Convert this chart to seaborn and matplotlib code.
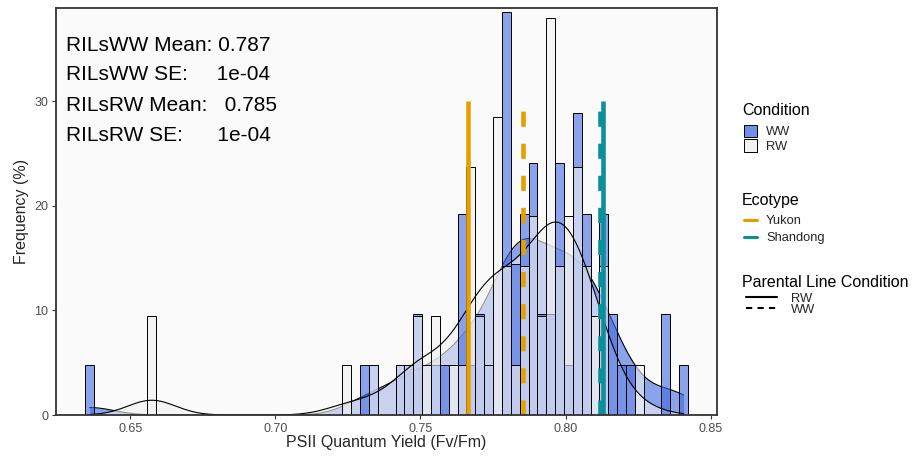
import numpy as np
import pandas as pd
import matplotlib
matplotlib.use("Agg")
import matplotlib.pyplot as plt
import seaborn as sns
from matplotlib.patches import Patch
from matplotlib.lines import Line2D

# ---------------- data ----------------
bin_values = [0.6360, 0.6574, 0.7246, 0.7307, 0.7338, 0.7430, 0.7460, 0.7491,
              0.7521, 0.7552, 0.7582, 0.7613, 0.7643, 0.7674, 0.7704, 0.7735,
              0.7766, 0.7796, 0.7827, 0.7857, 0.7888, 0.7918, 0.7949, 0.7979,
              0.8010, 0.8041, 0.8071, 0.8102, 0.8132, 0.8163, 0.8193, 0.8224,
              0.8254, 0.8346, 0.8407]
ww_counts = [1, 0, 0, 1, 1, 1, 1, 2,
             0, 1, 1, 0, 4, 1, 2, 1,
             0, 8, 3, 4, 5, 2, 2, 5,
             1, 6, 4, 0, 4, 2, 1, 1,
             0, 2, 1]
rw_counts = [0, 2, 1, 0, 1, 1, 1, 2,
             1, 2, 0, 1, 1, 5, 2, 1,
             6, 3, 1, 3, 4, 2, 8, 3,
             4, 5, 3, 2, 3, 0, 0, 0,
             1, 0, 0]

parent_condition = ["RW", "WW", "RW", "WW"]
parent_ecotype = ["Yukon", "Yukon", "Shandong", "Shandong"]
parent_values = [0.7664, 0.7853, 0.8128, 0.8120]
parent_line_top = 30

annot_labels = ["RILsWW Mean: 0.787",
                "RILsWW SE:     1e-04",
                "RILsRW Mean:   0.785",
                "RILsRW SE:      1e-04"]
annot_y = [35.3, 32.5, 29.6, 26.7]

xticks = [0.65, 0.70, 0.75, 0.80, 0.85]
xtick_labels = ["0.65", "0.70", "0.75", "0.80", "0.85"]
yticks = [0, 10, 20, 30]

# ---------------- style ----------------
sns.set_style("white")
plt.rcParams["font.family"] = ["Liberation Sans", "DejaVu Sans"]

BLUE = "#4169E1"
GREY = "#F2F2F2"
ECO_COLORS = {"Yukon": "#E69F00", "Shandong": "#0A8F9B"}
BIN_START, BIN_WIDTH, N_BINS = 0.63449, 0.003055, 68
edges = BIN_START + BIN_WIDTH * np.arange(N_BINS + 1)
KDE_BW = 0.0082

df = pd.DataFrame({
    "Fv/Fm": np.concatenate([np.repeat(bin_values, ww_counts),
                             np.repeat(bin_values, rw_counts)]),
    "Condition": ["WW"] * int(sum(ww_counts)) + ["RW"] * int(sum(rw_counts)),
})
full_range = (df["Fv/Fm"].min(), df["Fv/Fm"].max())

fig = plt.figure(figsize=(9.15, 4.57), dpi=100)
ax = fig.add_axes([56 / 915, 42 / 457, 661 / 915, 407 / 457])
ax.set_facecolor("#FAFAFA")

ww = df.loc[df["Condition"] == "WW", "Fv/Fm"]
rw = df.loc[df["Condition"] == "RW", "Fv/Fm"]
kde_common = dict(cut=4, clip=full_range)

# WW density (fill + outline), then RW fill over it
sns.kdeplot(x=ww, ax=ax, fill=True, color=BLUE, alpha=0.6, linewidth=0,
            bw_method=KDE_BW / ww.std(ddof=1), zorder=1.00, **kde_common)
sns.kdeplot(x=ww, ax=ax, color="black", linewidth=0.8,
            bw_method=KDE_BW / ww.std(ddof=1), zorder=1.01, **kde_common)
sns.kdeplot(x=rw, ax=ax, fill=True, color=GREY, alpha=0.6, linewidth=0,
            bw_method=KDE_BW / rw.std(ddof=1), zorder=1.02, **kde_common)

# histograms
sns.histplot(x=ww, ax=ax, bins=edges, stat="density", color=BLUE,
             alpha=0.6, edgecolor="black", linewidth=0.7, zorder=1.03)
sns.histplot(x=rw, ax=ax, bins=edges, stat="density", color=GREY,
             alpha=0.6, edgecolor="black", linewidth=0.7, zorder=1.04)

# RW density outline on top of bars
sns.kdeplot(x=rw, ax=ax, color="black", linewidth=0.8,
            bw_method=KDE_BW / rw.std(ddof=1), zorder=1.05, **kde_common)

# parental lines
for v, cond, eco in zip(parent_values, parent_condition, parent_ecotype):
    ls = "solid" if cond == "RW" else (0, (3.3, 3.7))
    ax.vlines(v, 0, parent_line_top, colors=ECO_COLORS[eco], linewidth=3.3,
              linestyles=ls, zorder=2)

# annotations
for lab, yy in zip(annot_labels, annot_y):
    ax.text(0.6278, yy, lab, fontsize=15, va="center", ha="left",
            color="black", zorder=3)

ax.set_xlim(0.6244, 0.8522)
ax.set_ylim(0, 38.9)
ax.set_xticks(xticks)
ax.set_xticklabels(xtick_labels)
ax.set_yticks(yticks)
ax.tick_params(axis="both", which="both", direction="out", length=3, width=0.8,
               color="#333333", labelcolor="#4D4D4D", labelsize=9, pad=2.5,
               bottom=True, left=True)
ax.set_xlabel("PSII Quantum Yield (Fv/Fm)", fontsize=11.5, labelpad=0.5)
ax.set_ylabel("Frequency (%)", fontsize=11.5, labelpad=4)
for sp in ax.spines.values():
    sp.set_visible(True)
    sp.set_color("#333333")
    sp.set_linewidth(1.3)

# legends (titles as separate text so spacing can follow the reference)
W, H = 915, 457
title_kw = dict(fontsize=11.5, ha="left", va="baseline", color="black")
fig.text(742 / W, 1 - 114.8 / H, "Condition", **title_kw)
fig.text(742 / W, 1 - 204.8 / H, "Ecotype", **title_kw)
fig.text(742 / W, 1 - 286.8 / H, "Parental Line Condition", **title_kw)

common = dict(loc="upper left", bbox_transform=fig.transFigure, frameon=False,
              fontsize=9.3, borderpad=0, borderaxespad=0, alignment="left")
h1 = [Patch(facecolor=(65 / 255, 105 / 255, 225 / 255, 0.75), edgecolor="black", linewidth=0.7),
      Patch(facecolor=GREY, edgecolor="black", linewidth=0.7)]
leg1 = ax.legend(handles=h1, labels=["WW", "RW"],
                 bbox_to_anchor=(744 / W, 1 - 124.6 / H), handlelength=1.0,
                 handleheight=1.1, labelspacing=0.1, handletextpad=0.7, **common)
ax.add_artist(leg1)
h2 = [Line2D([], [], color=ECO_COLORS["Yukon"], linewidth=2.2),
      Line2D([], [], color=ECO_COLORS["Shandong"], linewidth=2.2)]
leg2 = ax.legend(handles=h2, labels=["Yukon", "Shandong"],
                 bbox_to_anchor=(744 / W, 1 - 215.3 / H), handlelength=1.0,
                 labelspacing=0.36, handletextpad=0.7, **common)
ax.add_artist(leg2)
h3 = [Line2D([], [], color="black", linewidth=1.5),
      Line2D([], [], color="black", linewidth=1.5, linestyle=(0, (3, 2.5)))]
leg3 = ax.legend(handles=h3, labels=["RW", "WW"],
                 bbox_to_anchor=(746 / W, 1 - 292.5 / H), handlelength=2.4,
                 labelspacing=-0.08, handletextpad=1.1, **common)

fig.savefig("out.png", dpi=100, facecolor="white")
